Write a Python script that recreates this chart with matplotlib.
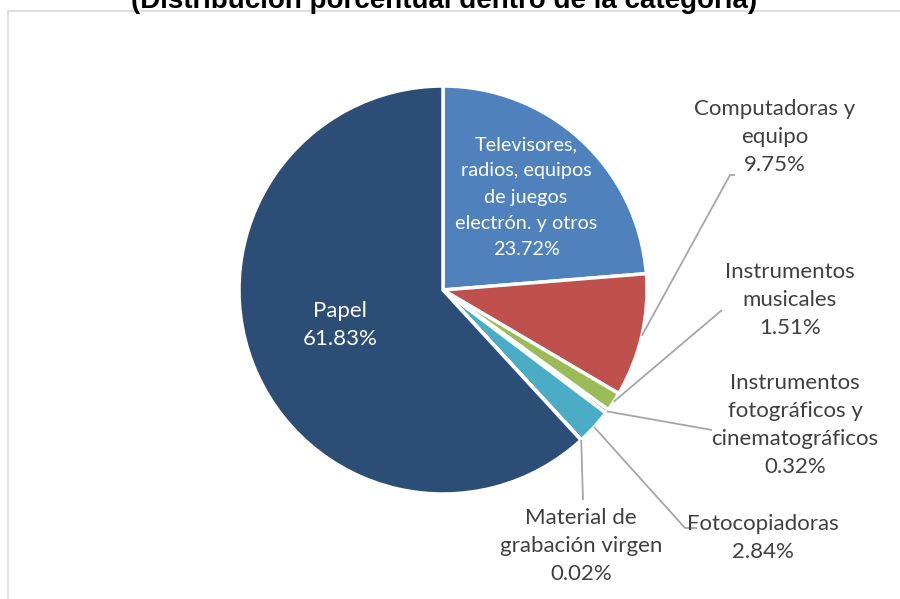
import matplotlib
matplotlib.use("Agg")
import matplotlib.pyplot as plt
import numpy as np
from matplotlib.patches import Rectangle

# ---- data ----
categories = [
    "Televisores,\nradios, equipos\nde juegos\nelectrón. y otros",
    "Computadoras y\nequipo",
    "Instrumentos\nmusicales",
    "Instrumentos\nfotográficos y\ncinematográficos",
    "Fotocopiadoras",
    "Material de\ngrabación virgen",
    "Papel",
]
values = [23.72, 9.75, 1.51, 0.32, 2.84, 0.02, 61.83]
colors = ["#4F81BD", "#C0504D", "#9BBB59", "#8064A2", "#4BACC6", "#F79646", "#2C4D75"]
title = "(Distribución porcentual dentro de la categoría)"

W, H = 900, 599
fig = plt.figure(figsize=(W / 100, H / 100), dpi=100)
ax = fig.add_axes([0, 0, 1, 1])

def py(y):  # image-pixel y (from top) -> data y
    return H - y

cx, cy, R = 443, py(290), 204
wedges, _ = ax.pie(values, colors=colors, startangle=90, counterclock=False,
                   center=(cx, cy), radius=R,
                   wedgeprops=dict(edgecolor="white", linewidth=2.5))
ax.set_xlim(0, W)
ax.set_ylim(0, H)
ax.set_aspect("auto")
ax.axis("off")

# chart border
ax.add_patch(Rectangle((8, -10), 1000, py(11) + 10, fill=False,
                       edgecolor="#D9D9D9", linewidth=1.2, clip_on=False))

# title (cut at the top, as in the reference)
ax.text(444, py(8), title, ha="center", va="baseline", fontsize=20,
        fontweight="bold", family="Liberation Sans", color="black")

font = ["Lato", "DejaVu Sans"]
fs = 16
ls = 1.48
txtcol = "#404040"

# label positions (centre of label block, image pixels), leader end points
inside = {0: ((526, 197), 14.3, 1.66), 6: ((340, 325), fs, ls)}
outside = {
    1: ((775, 137), [(735, 175), (730, 175)]),
    2: ((790, 300), [(722, 310)]),
    3: ((795, 425), [(712, 430)]),
    4: ((763, 538), [(697, 528), (685, 528)]),
    5: ((581, 546), [(583, 500)]),
}

cum = np.cumsum([0] + values)
total = sum(values)
for i, (cat, v) in enumerate(zip(categories, values)):
    lab = f"{cat}\n{v:.2f}%"
    if i in inside:
        (x, y), f_, l_ = inside[i]
        ax.text(x, py(y), lab, ha="center", va="center", fontsize=f_,
                family=font, color="white", linespacing=l_)
    else:
        (x, y), pts = outside[i]
        ax.text(x, py(y), lab, ha="center", va="center", fontsize=fs,
                family=font, color=txtcol, linespacing=ls)
        mid = (cum[i] + cum[i + 1]) / 2 / total * 2 * np.pi
        sx = cx + R * np.sin(mid)
        sy = cy + R * np.cos(mid)
        ax.plot([sx] + [p[0] for p in pts[::-1]],
                [sy] + [py(p[1]) for p in pts[::-1]],
                color="#A6A6A6", linewidth=1.3, solid_capstyle="butt")

fig.savefig("out.png", dpi=100)
